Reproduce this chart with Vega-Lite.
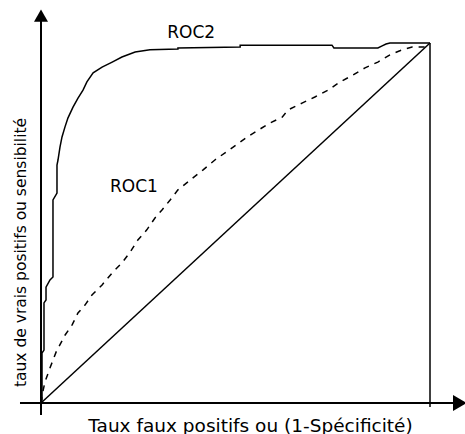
{
  "$schema": "https://vega.github.io/schema/vega-lite/v6.json",
  "width": 389,
  "height": 360,
  "autosize": "none",
  "padding": {"left": 41, "top": 43, "right": 35, "bottom": 31},
  "background": "white",
  "data": {"values": [{}]},
  "config": {
    "view": {"stroke": null},
    "font": "DejaVu Sans",
    "axis": {"domain": false, "ticks": false, "labels": false, "grid": false, "titleFont": "DejaVu Sans", "titleFontSize": 16, "titleFontWeight": "normal", "titleColor": "black"}
  },
  "datasets": {
    "roc2": [
      {"fpr": 0, "tpr": 0}, {"fpr": 0.0026, "tpr": 0.0083}, {"fpr": 0.0026, "tpr": 0.139},
      {"fpr": 0.0077, "tpr": 0.147}, {"fpr": 0.0077, "tpr": 0.278}, {"fpr": 0.0129, "tpr": 0.286},
      {"fpr": 0.0129, "tpr": 0.322}, {"fpr": 0.0231, "tpr": 0.342}, {"fpr": 0.0308, "tpr": 0.35},
      {"fpr": 0.0308, "tpr": 0.564}, {"fpr": 0.0411, "tpr": 0.583}, {"fpr": 0.0411, "tpr": 0.661},
      {"fpr": 0.0437, "tpr": 0.675}, {"fpr": 0.0488, "tpr": 0.711}, {"fpr": 0.054, "tpr": 0.739},
      {"fpr": 0.0617, "tpr": 0.767}, {"fpr": 0.0694, "tpr": 0.792}, {"fpr": 0.0823, "tpr": 0.822},
      {"fpr": 0.0951, "tpr": 0.847}, {"fpr": 0.108, "tpr": 0.869}, {"fpr": 0.118, "tpr": 0.892},
      {"fpr": 0.134, "tpr": 0.917}, {"fpr": 0.157, "tpr": 0.933}, {"fpr": 0.183, "tpr": 0.947},
      {"fpr": 0.208, "tpr": 0.961}, {"fpr": 0.242, "tpr": 0.975}, {"fpr": 0.28, "tpr": 0.981},
      {"fpr": 0.352, "tpr": 0.983}, {"fpr": 0.352, "tpr": 0.986}, {"fpr": 0.512, "tpr": 0.989},
      {"fpr": 0.512, "tpr": 0.994}, {"fpr": 0.748, "tpr": 0.994}, {"fpr": 0.753, "tpr": 0.986},
      {"fpr": 0.866, "tpr": 0.986}, {"fpr": 0.877, "tpr": 0.992}, {"fpr": 0.887, "tpr": 0.997},
      {"fpr": 0.897, "tpr": 1.0}, {"fpr": 1.0, "tpr": 1.0}
    ],
    "roc1": [
      {"fpr": 0, "tpr": 0}, {"fpr": 0.003, "tpr": 0.022}, {"fpr": 0.01, "tpr": 0.058},
      {"fpr": 0.023, "tpr": 0.097}, {"fpr": 0.039, "tpr": 0.142}, {"fpr": 0.062, "tpr": 0.189},
      {"fpr": 0.08, "tpr": 0.217}, {"fpr": 0.095, "tpr": 0.25}, {"fpr": 0.113, "tpr": 0.272},
      {"fpr": 0.131, "tpr": 0.3}, {"fpr": 0.157, "tpr": 0.328}, {"fpr": 0.185, "tpr": 0.364},
      {"fpr": 0.208, "tpr": 0.389}, {"fpr": 0.229, "tpr": 0.419}, {"fpr": 0.249, "tpr": 0.453},
      {"fpr": 0.272, "tpr": 0.481}, {"fpr": 0.293, "tpr": 0.514}, {"fpr": 0.311, "tpr": 0.536},
      {"fpr": 0.332, "tpr": 0.564}, {"fpr": 0.352, "tpr": 0.592}, {"fpr": 0.383, "tpr": 0.619},
      {"fpr": 0.416, "tpr": 0.647}, {"fpr": 0.447, "tpr": 0.675}, {"fpr": 0.494, "tpr": 0.711},
      {"fpr": 0.53, "tpr": 0.739}, {"fpr": 0.563, "tpr": 0.761}, {"fpr": 0.589, "tpr": 0.778},
      {"fpr": 0.62, "tpr": 0.794}, {"fpr": 0.635, "tpr": 0.814}, {"fpr": 0.671, "tpr": 0.833},
      {"fpr": 0.704, "tpr": 0.85}, {"fpr": 0.738, "tpr": 0.869}, {"fpr": 0.769, "tpr": 0.892},
      {"fpr": 0.802, "tpr": 0.911}, {"fpr": 0.833, "tpr": 0.931}, {"fpr": 0.866, "tpr": 0.947},
      {"fpr": 0.897, "tpr": 0.967}, {"fpr": 0.928, "tpr": 0.981}, {"fpr": 0.954, "tpr": 0.989},
      {"fpr": 0.987, "tpr": 0.989}
    ]
  },
  "layer": [
    {
      "data": {"name": "roc2"},
      "mark": {"type": "line", "color": "black", "strokeWidth": 1.5},
      "encoding": {
        "x": {"field": "fpr", "type": "quantitative", "scale": {"domain": [0, 1], "nice": false, "zero": false},
              "axis": {"title": "Taux faux positifs ou (1-Spécificité)", "titleFontSize": 18.5, "titleX": 209, "titleY": 22, "titleBaseline": "middle", "titleAlign": "center"}},
        "y": {"field": "tpr", "type": "quantitative", "scale": {"domain": [0, 1], "nice": false, "zero": false},
              "axis": {"title": "taux de vrais positifs ou sensibilité", "titleFontSize": 15.5, "titleX": -21, "titleY": 209, "titleBaseline": "middle", "titleAlign": "center", "titleAngle": 270}},
        "order": {"value": null}
      }
    },
    {
      "data": {"name": "roc1"},
      "mark": {"type": "line", "color": "black", "strokeWidth": 1.5, "strokeDash": [6, 6]},
      "encoding": {
        "x": {"field": "fpr", "type": "quantitative", "title": "Taux faux positifs ou (1-Spécificité)"},
        "y": {"field": "tpr", "type": "quantitative", "title": "taux de vrais positifs ou sensibilité"},
        "order": {"value": null}
      }
    },
    {
      "mark": {"type": "rule", "color": "black", "strokeWidth": 1.5},
      "encoding": {"x": {"datum": 0}, "y": {"datum": 0}, "x2": {"datum": 1}, "y2": {"datum": 1}}
    },
    {
      "mark": {"type": "rule", "color": "black", "strokeWidth": 1.5},
      "encoding": {"x": {"datum": 1}, "y": {"datum": -0.011}, "y2": {"datum": 1}}
    },
    {
      "mark": {"type": "rule", "color": "black", "strokeWidth": 2},
      "encoding": {"x": {"datum": -0.054}, "x2": {"datum": 1.07}, "y": {"datum": 0}}
    },
    {
      "mark": {"type": "rule", "color": "black", "strokeWidth": 2},
      "encoding": {"x": {"datum": 0}, "y": {"datum": -0.033}, "y2": {"datum": 1.07}}
    },
    {
      "mark": {"type": "point", "shape": "triangle-up", "filled": true, "color": "black", "opacity": 1, "size": 196},
      "encoding": {"x": {"datum": 0}, "y": {"datum": 1.076}}
    },
    {
      "mark": {"type": "point", "shape": "triangle-right", "filled": true, "color": "black", "opacity": 1, "size": 256},
      "encoding": {"x": {"datum": 1.077}, "y": {"datum": 0}}
    },
    {
      "mark": {"type": "text", "font": "DejaVu Sans", "fontSize": 17, "color": "black", "align": "center", "baseline": "middle"},
      "encoding": {"x": {"datum": 0.386}, "y": {"datum": 1.028}, "text": {"value": "ROC2"}}
    },
    {
      "mark": {"type": "text", "font": "DejaVu Sans", "fontSize": 17, "color": "black", "align": "center", "baseline": "middle"},
      "encoding": {"x": {"datum": 0.239}, "y": {"datum": 0.6}, "text": {"value": "ROC1"}}
    }
  ]
}
